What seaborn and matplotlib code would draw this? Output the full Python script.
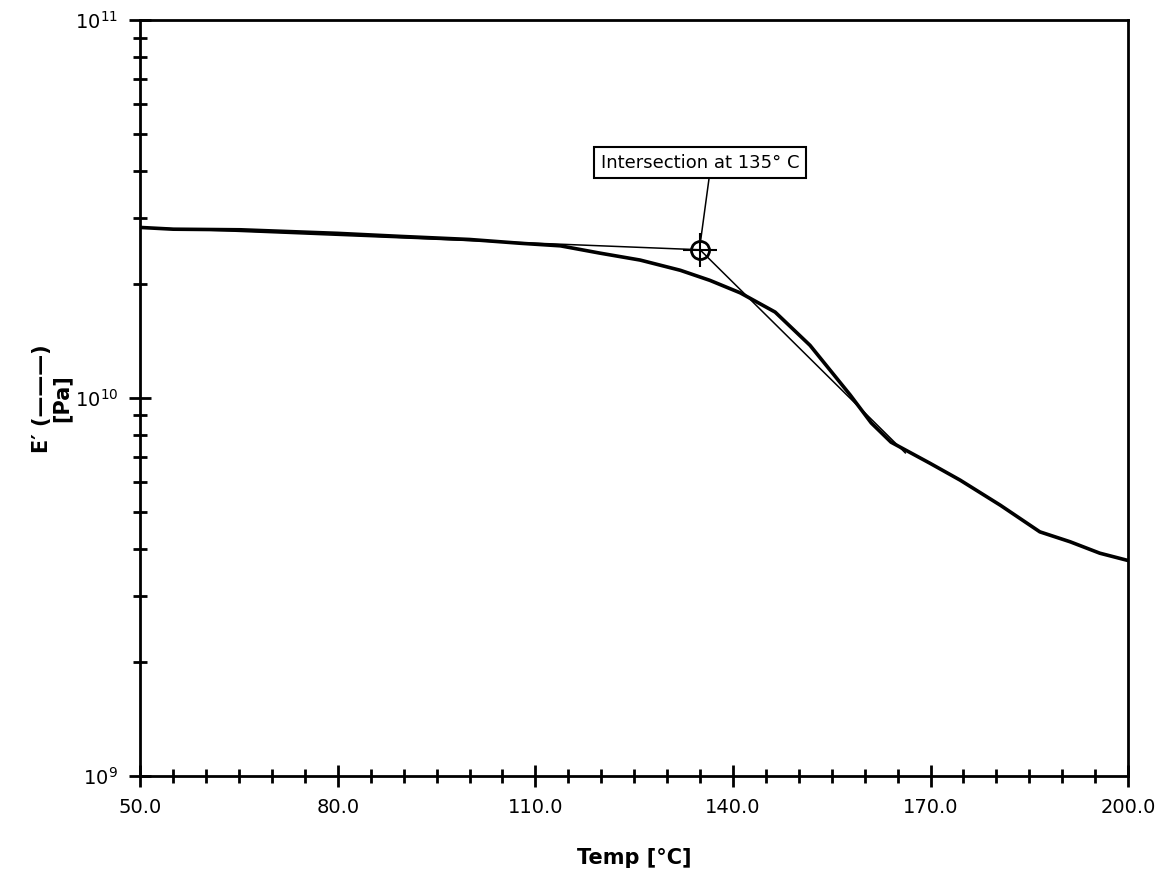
import numpy as np
import matplotlib
matplotlib.use("Agg")
import matplotlib.pyplot as plt
import seaborn as sns
from matplotlib.ticker import LogLocator, MultipleLocator, FixedLocator, NullFormatter

sns.set_theme(style="ticks")
plt.rcParams['font.family'] = ['DejaVu Sans']

# storage modulus curve
temp = [50, 55, 65.2, 80, 89.5, 100, 107.7, 113.8, 119.8, 125.9, 132, 136.5, 141.1,
        146.4, 151.7, 157.8, 161, 164, 169.9, 174.5, 180.6, 186.6, 191.2, 195.7, 200]
e_mod = [2.83e10, 2.80e10, 2.79e10, 2.73e10, 2.68e10, 2.63e10, 2.57e10, 2.53e10, 2.42e10,
         2.32e10, 2.18e10, 2.05e10, 1.90e10, 1.69e10, 1.38e10, 1.02e10, 8.6e9, 7.65e9,
         6.73e9, 6.07e9, 5.21e9, 4.43e9, 4.17e9, 3.89e9, 3.72e9]

# tangent lines
flat_t = [50, 135]
flat_e = [2.83e10, 2.47e10]
steep_t = [135, 166.2]
steep_e = [2.47e10, 7.16e9]
cross_t, cross_e = 135, 2.47e10

fig = plt.figure(figsize=(11.69, 8.8), dpi=100)
ax = fig.add_axes([0.12, 0.118, 0.845, 0.859])

sns.lineplot(x=temp, y=e_mod, ax=ax, color="black", lw=2.6, sort=False)
sns.lineplot(x=flat_t, y=flat_e, ax=ax, color="black", lw=1.1)
sns.lineplot(x=steep_t, y=steep_e, ax=ax, color="black", lw=1.1)
ax.plot([cross_t], [cross_e], marker="o", ms=13, mfc="none", mec="black", mew=2)
ax.plot([cross_t], [cross_e], marker="+", ms=24, mec="black", mew=1.5)

ax.annotate("Intersection at 135° C", xy=(cross_t, cross_e * 1.03), xytext=(135, 4.2e10),
            ha="center", va="center", fontsize=13, color="black",
            bbox=dict(boxstyle="square,pad=0.35", fc="white", ec="black", lw=1.5),
            arrowprops=dict(arrowstyle="-", color="black", lw=1.1, shrinkA=0, shrinkB=0,
                            relpos=(0.55, 0.0)))

ax.set_yscale("log")
ax.set_xlim(50, 200)
ax.set_ylim(1e9, 1e11)
ax.xaxis.set_major_locator(FixedLocator([50, 80, 110, 140, 170, 200]))
ax.xaxis.set_major_formatter(matplotlib.ticker.FormatStrFormatter("%.1f"))
ax.xaxis.set_minor_locator(MultipleLocator(5))
ax.yaxis.set_major_locator(LogLocator(base=10, numticks=5))
ax.yaxis.set_minor_locator(LogLocator(base=10, subs=np.arange(2, 10), numticks=20))
ax.yaxis.set_minor_formatter(NullFormatter())

ax.tick_params(which="major", direction="inout", length=16, width=2, labelsize=14,
               colors="black", pad=8, bottom=True, left=True, top=False, right=False)
ax.tick_params(which="minor", direction="inout", length=10, width=2, colors="black",
               bottom=True, left=True, top=False, right=False)
for s in ax.spines.values():
    s.set_color("black")
    s.set_linewidth(2)

ax.set_xlabel("Temp [°C]", fontsize=15, fontweight="bold", labelpad=22, color="black")
ax.set_ylabel("E′ (———)\n[Pa]", fontsize=15, fontweight="bold", labelpad=2,
              linespacing=1.0, color="black")

fig.savefig("out.png", dpi=100)
